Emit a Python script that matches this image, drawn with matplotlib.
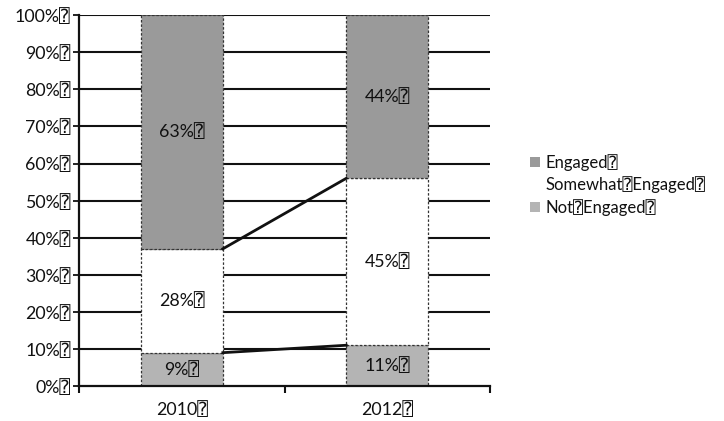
import matplotlib
matplotlib.use("Agg")
import matplotlib.pyplot as plt
from matplotlib.patches import Patch

plt.rcParams['font.family'] = ['Lato', 'DejaVu Sans', 'DejaVu Sans Mono']

BOX = "\u2370"
years = ["2010", "2012"]
not_engaged = [9, 11]
somewhat = [28, 45]
engaged = [63, 44]
series_names = ["Engaged", "Somewhat Engaged", "Not Engaged"]
yticks = [0, 10, 20, 30, 40, 50, 60, 70, 80, 90, 100]

col_eng = "#9a9a9a"
col_some = "#ffffff"
col_not = "#b4b4b4"
edge = "#333333"
txt = "#111111"

fig = plt.figure(figsize=(7.24, 4.21), dpi=100)
ax = fig.add_axes([0.109, 0.083, 0.568, 0.881])

x = list(range(len(years)))
w = 0.4
for yv in yticks[1:]:
    ax.axhline(yv, color="#111111", lw=1.5, zorder=1)

b1 = ax.bar(x, not_engaged, w, color=col_not, edgecolor=edge, linestyle=(0, (2, 1.5)), lw=0.9, zorder=2)
b2 = ax.bar(x, somewhat, w, bottom=not_engaged, color=col_some, edgecolor=edge, linestyle=(0, (2, 1.5)), lw=0.9, zorder=2)
bot3 = [a + b for a, b in zip(not_engaged, somewhat)]
b3 = ax.bar(x, engaged, w, bottom=bot3, color=col_eng, edgecolor=edge, linestyle=(0, (2, 1.5)), lw=0.9, zorder=2)

# series lines
ax.plot([x[0] + w / 2, x[1] - w / 2], [not_engaged[0], not_engaged[1]], color="#111111", lw=2.0, zorder=3)
ax.plot([x[0] + w / 2, x[1] - w / 2], [bot3[0], bot3[1]], color="#111111", lw=2.0, zorder=3)

fs = 12.8
for i in x:
    ax.text(i, not_engaged[i] / 2, f"{not_engaged[i]}%{BOX}", ha="center", va="center", fontsize=fs, color=txt, zorder=4)
    ax.text(i, not_engaged[i] + somewhat[i] / 2, f"{somewhat[i]}%{BOX}", ha="center", va="center", fontsize=fs, color=txt, zorder=4)
    ax.text(i, bot3[i] + engaged[i] / 2, f"{engaged[i]}%{BOX}", ha="center", va="center", fontsize=fs, color=txt, zorder=4)

ax.set_xlim(-0.5, 1.5)
ax.set_ylim(0, 100)
ax.set_yticks(yticks)
ax.set_yticklabels([f"{v}%{BOX}" for v in yticks], fontsize=fs, color=txt)
ax.set_xticks([-0.5, 0.5, 1.5])
ax.set_xticklabels([])
ax.set_xticks(x, minor=True)
ax.set_xticklabels([f"{y}{BOX}" for y in years], minor=True, fontsize=fs, color=txt)
ax.tick_params(axis="x", which="minor", length=0, pad=11)
ax.tick_params(axis="x", which="major", length=5, width=1.5, color="#111111", direction="out")
ax.tick_params(axis="y", length=4, width=1.3, color="#111111", pad=2)
for s in ["top", "right"]:
    ax.spines[s].set_visible(False)
ax.spines["left"].set_linewidth(1.6)
ax.spines["left"].set_color("#111111")
ax.spines["bottom"].set_linewidth(1.6)
ax.spines["bottom"].set_color("#111111")

handles = [Patch(facecolor=col_eng, edgecolor="none"),
           Patch(facecolor=col_some, edgecolor="none"),
           Patch(facecolor=col_not, edgecolor="none")]
labels = [n.replace(" ", BOX) + BOX for n in series_names]
fig.legend(handles, labels, loc="upper left", bbox_to_anchor=(0.712, 0.67), frameon=False,
           fontsize=12, handlelength=0.55, handleheight=0.55, handletextpad=0.35, labelspacing=0.35,
           labelcolor=txt)

fig.savefig("out.png", dpi=100, facecolor="white")
